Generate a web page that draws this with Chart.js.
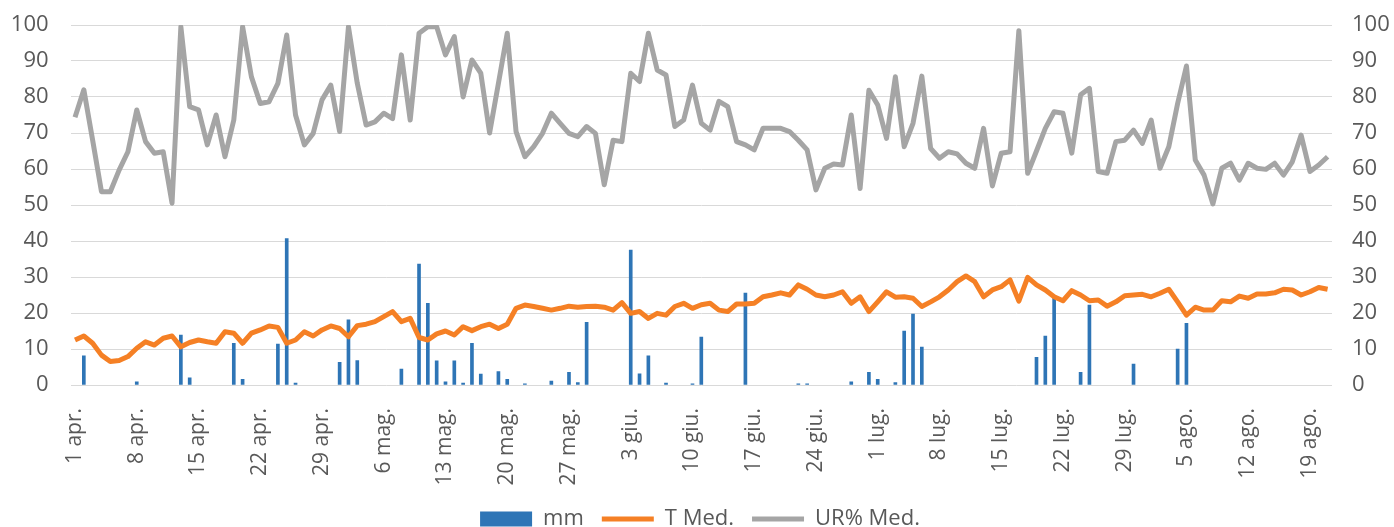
<!doctype html>
<html lang="it">
<head>
<meta charset="UTF-8">
<title>mm, T Med., UR% Med.</title>
<script src="https://cdn.jsdelivr.net/npm/chart.js"></script>
<style>
  body { margin: 0; background: #fff; }
  #wrap { width: 1394px; height: 527px; position: relative; }
</style>
</head>
<body>
<div id="wrap"><canvas id="chart"></canvas></div>
<script>
  // months in the period (1 apr. -> 21 ago.), one category per day
  const months = ['apr.', 'mag.', 'giu.', 'lug.', 'ago.'];
  const monthDays = [30, 31, 30, 31, 21];

  // daily rain (mm)
  const mm = [
    0, 8.1, 0, 0, 0, 0, 0, 0.9, 0, 0,
    0, 0, 13.9, 2, 0, 0, 0, 0, 11.6, 1.6,
    0, 0, 0, 11.4, 40.7, 0.5, 0, 0, 0, 0,
    6.3, 18.1, 6.8, 0, 0, 0, 0, 4.4, 0, 33.6,
    22.7, 6.7, 0.9, 6.7, 0.5, 11.6, 3, 0, 3.7, 1.6,
    0, 0.3, 0, 0, 1.1, 0, 3.5, 0.7, 17.4, 0,
    0, 0, 0, 37.5, 3.1, 8.1, 0, 0.5, 0, 0,
    0.3, 13.3, 0, 0, 0, 0, 25.5, 0, 0, 0,
    0, 0, 0.3, 0.3, 0, 0, 0, 0, 0.9, 0,
    3.5, 1.6, 0, 0.7, 15, 19.7, 10.5, 0, 0, 0,
    0, 0, 0, 0, 0, 0, 0, 0, 0, 7.7,
    13.6, 24.1, 0, 0, 3.5, 22.2, 0, 0, 0, 0,
    5.8, 0, 0, 0, 0, 10, 17.1, 0, 0, 0,
    0, 0, 0, 0, 0, 0, 0, 0, 0, 0,
    0, 0, 0
  ];

  // mean temperature
  const tMed = [
    12.5, 13.6, 11.6, 8.3, 6.5, 6.8, 7.9, 10.2, 12, 11.1,
    13, 13.6, 10.6, 11.8, 12.5, 12, 11.6, 14.8, 14.4, 11.6,
    14.4, 15.3, 16.4, 16, 11.6, 12.5, 14.8, 13.6, 15.3, 16.4,
    15.7, 13.4, 16.5, 16.9, 17.6, 19, 20.4, 17.6, 18.5, 13.2,
    12.5, 14.2, 15, 13.9, 16.2, 15.1, 16.2, 16.9, 15.7, 16.9,
    21.3, 22.2, 21.8, 21.3, 20.8, 21.3, 21.9, 21.6, 21.8, 21.9,
    21.6, 20.8, 22.9, 19.9, 20.4, 18.5, 19.9, 19.4, 21.8, 22.7,
    21.3, 22.3, 22.7, 20.8, 20.4, 22.5, 22.5, 22.7, 24.5, 25,
    25.6, 25, 27.8, 26.6, 25, 24.5, 25, 25.9, 22.7, 24.5,
    20.4, 23.1, 25.9, 24.4, 24.5, 24.1, 21.8, 23.1, 24.5, 26.4,
    28.7, 30.3, 28.7, 24.5, 26.4, 27.3, 29.2, 23.3, 29.9, 27.8,
    26.4, 24.5, 23.4, 26.2, 25, 23.4, 23.6, 21.9, 23.1, 24.8,
    25, 25.2, 24.5, 25.5, 26.6, 23.1, 19.4, 21.6, 20.8, 20.8,
    23.4, 23.1, 24.7, 24.1, 25.3, 25.3, 25.6, 26.6, 26.4, 25,
    25.9, 27.1, 26.6
  ];

  // mean relative humidity
  const urMed = [
    74.4, 82, 68, 53.7, 53.7, 59.7, 64.8, 76.4, 67.6, 64.4,
    64.8, 50.5, 99.5, 77.3, 76.4, 66.7, 75, 63.4, 73.6, 99.5,
    85.6, 78.2, 78.7, 83.8, 97.2, 75, 66.7, 69.9, 79.2, 83.3,
    70.4, 99.5, 83.8, 72.2, 73.1, 75.5, 74, 91.7, 73.6, 97.7,
    99.5, 99.5, 91.7, 96.8, 80, 90.3, 86.6, 70, 83.8, 97.7,
    70.4, 63.4, 66.2, 69.9, 75.5, 72.7, 69.9, 69, 71.8, 69.9,
    55.6, 68, 67.6, 86.6, 84.3, 97.7, 87.5, 86.1, 71.8, 73.6,
    83.3, 72.7, 70.8, 78.8, 77.3, 67.6, 66.7, 65.3, 71.3, 71.3,
    71.3, 70.4, 68, 65.3, 54.2, 60.2, 61.4, 61.1, 75, 54.6,
    81.9, 77.8, 68.5, 85.6, 66.2, 72.7, 85.8, 65.7, 63, 64.8,
    64.2, 61.6, 60.2, 71.3, 55.3, 64.4, 64.8, 98.4, 58.8, 65,
    71.3, 75.9, 75.5, 64.4, 80.6, 82.4, 59.3, 58.8, 67.6, 68,
    70.8, 67.1, 73.6, 60.2, 66.2, 78.2, 88.6, 62.5, 58.3, 50.3,
    60.2, 61.6, 56.9, 61.6, 60.2, 59.9, 61.6, 58.3, 62, 69.4,
    59.3, 61.1, 63.4
  ];

  // build the day labels, e.g. "1 apr."
  const labels = [];
  months.forEach((m, i) => {
    for (let d = 1; d <= monthDays[i]; d++) labels.push(d + ' ' + m);
  });

  const textColor = '#595959';
  const fontFamily = '"Open Sans", "Noto Sans", sans-serif';

  new Chart(document.getElementById('chart'), {
    type: 'bar',
    data: {
      labels: labels,
      datasets: [
        {
          type: 'bar',
          label: 'mm',
          // dry days draw no bar at all
          data: mm.map(v => (v === 0 ? null : v)),
          backgroundColor: '#2E75B6',
          barThickness: 3,
          yAxisID: 'y',
          order: 3
        },
        {
          type: 'line',
          label: 'T Med.',
          data: tMed,
          borderColor: '#F58025',
          backgroundColor: '#F58025',
          borderWidth: 5,
          pointRadius: 0,
          tension: 0,
          borderJoinStyle: 'round',
          yAxisID: 'y',
          order: 1
        },
        {
          type: 'line',
          label: 'UR% Med.',
          data: urMed,
          borderColor: '#A5A5A5',
          backgroundColor: '#A5A5A5',
          borderWidth: 5,
          pointRadius: 0,
          tension: 0,
          borderJoinStyle: 'round',
          yAxisID: 'y2',
          order: 2
        }
      ]
    },
    options: {
      responsive: true,
      maintainAspectRatio: false,
      animation: false,
      layout: { padding: { left: 10, right: 4, top: 25, bottom: -13 } },
      scales: {
        x: {
          offset: true,
          grid: { display: false },
          border: { display: false },
          ticks: {
            autoSkip: false,
            minRotation: 90,
            maxRotation: 90,
            padding: 15,
            color: textColor,
            font: { family: fontFamily, size: 21 },
            callback: (v, i) => (i % 7 === 0 ? labels[i] : '')
          },
          afterFit: s => {
            s.height = 105;
            s.paddingLeft = 0;
            s.paddingRight = 0;
          }
        },
        y: {
          position: 'left',
          min: 0,
          max: 100,
          grid: { color: '#D9D9D9', lineWidth: 1, drawTicks: false },
          border: { display: false },
          ticks: { stepSize: 10, padding: 22, color: textColor, font: { family: fontFamily, size: 22 } },
          afterFit: s => {
            s.width = 60.6;
            s.paddingTop = 0;
            s.paddingBottom = 0;
          }
        },
        y2: {
          position: 'right',
          min: 0,
          max: 100,
          grid: { display: false, drawTicks: false },
          border: { display: false },
          ticks: { stepSize: 10, padding: 20, color: textColor, font: { family: fontFamily, size: 22 } },
          afterFit: s => {
            s.width = 58;
            s.paddingTop = 0;
            s.paddingBottom = 0;
          }
        }
      },
      plugins: {
        tooltip: { enabled: false },
        legend: {
          position: 'bottom',
          labels: {
            usePointStyle: true,
            pointStyleWidth: 52,
            boxHeight: 15,
            padding: 18,
            color: textColor,
            font: { family: fontFamily, size: 22 },
            sort: (a, b) => a.datasetIndex - b.datasetIndex,
            generateLabels(chart) {
              const items = Chart.defaults.plugins.legend.labels.generateLabels(chart);
              items.forEach(it => {
                const ds = chart.data.datasets[it.datasetIndex];
                if (ds.type === 'bar') {
                  it.pointStyle = 'rect';
                  it.lineWidth = 0;
                } else {
                  it.pointStyle = 'line';
                  it.lineWidth = 5;
                  it.strokeStyle = ds.borderColor;
                }
              });
              return items;
            }
          }
        }
      }
    }
  });
</script>
</body>
</html>
